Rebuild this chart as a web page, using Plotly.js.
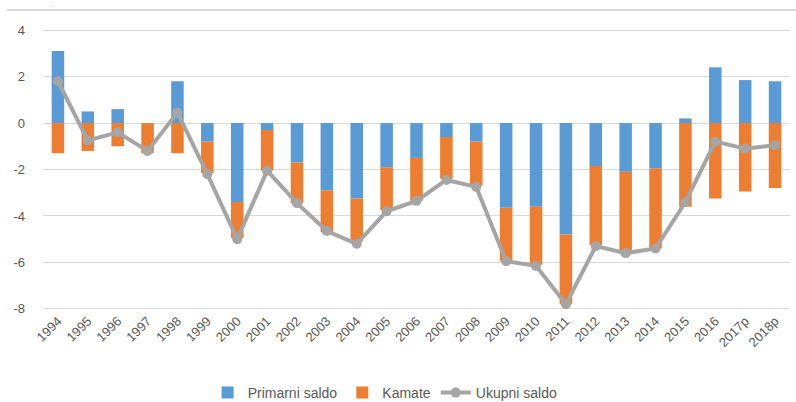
<!DOCTYPE html>
<html>
<head>
<meta charset="utf-8">
<script src="https://cdn.plot.ly/plotly-3.0.1.min.js"></script>
<style>html,body{margin:0;padding:0;background:#fff;}#chart{width:796px;height:402px;}</style>
</head>
<body>
<div id="chart"></div>
<script>
const years = ["1994","1995","1996","1997","1998","1999","2000","2001","2002","2003","2004","2005","2006","2007","2008","2009","2010","2011","2012","2013","2014","2015","2016","2017p","2018p"];
const primarniSaldo = [3.1,0.5,0.6,0.0,1.8,-0.8,-3.4,-0.3,-1.7,-2.9,-3.25,-1.9,-1.5,-0.6,-0.8,-3.65,-3.6,-4.8,-1.85,-2.1,-1.95,0.2,2.4,1.85,1.8];
const kamate = [-1.3,-1.2,-1.0,-1.3,-1.3,-1.35,-1.55,-1.75,-1.75,-1.8,-1.85,-1.85,-1.85,-1.8,-1.9,-2.3,-2.5,-3.0,-3.4,-3.45,-3.45,-3.6,-3.25,-2.95,-2.8];
const ukupniSaldo = [1.8,-0.75,-0.4,-1.2,0.45,-2.2,-5.0,-2.05,-3.45,-4.65,-5.2,-3.8,-3.35,-2.45,-2.75,-5.95,-6.15,-7.8,-5.3,-5.6,-5.4,-3.4,-0.8,-1.1,-0.95];
const yTicks = [-8,-6,-4,-2,0,2,4];

const font = "'Liberation Sans Narrow', 'Liberation Sans', Roboto, sans-serif";
const data = [
  {type:'bar', name:'Primarni saldo', x:years, y:primarniSaldo, marker:{color:'#5B9BD5'}},
  {type:'bar', name:'Kamate', x:years, y:kamate, marker:{color:'#ED7D31'}},
  {type:'scatter', mode:'lines+markers', name:'Ukupni saldo', x:years, y:ukupniSaldo,
   line:{color:'#A5A5A5', width:4}, marker:{color:'#A5A5A5', size:10}}
];
const layout = {
  width:796, height:402,
  margin:{l:43, r:6, t:29, b:92},
  barmode:'relative', bargap:0.58,
  paper_bgcolor:'#fff', plot_bgcolor:'#fff',
  font:{family:font, size:12, color:'#595959'},
  xaxis:{type:'category', range:[-0.5, years.length-0.5], tickangle:-45, showgrid:false, showline:false, ticks:'',
         tickfont:{family:font, size:13, color:'#595959'}, automargin:false},
  yaxis:{range:[-8.05,4.05], tickvals:yTicks, ticktext:yTicks.map(String), showgrid:true, gridcolor:'#D9D9D9', gridwidth:1,
         zeroline:true, zerolinecolor:'#D9D9D9', zerolinewidth:1, showline:false, ticks:'',
         tickfont:{family:font, size:13, color:'#595959'}, ticklabelstandoff:17, automargin:false},
  legend:{orientation:'h', x:0.458, xanchor:'center', yref:'container', y:(402-393)/402, yanchor:'middle',
          font:{family:font, size:14, color:'#595959'}, traceorder:'normal'},
  shapes:[{type:'line', xref:'paper', yref:'paper', x0:-0.048, x1:1.008, y0:1.0676, y1:1.0676,
           line:{color:'#D9D9D9', width:2}}],
  annotations:[{xref:'paper', yref:'paper', x:(52-43)/747, y:1+(29-0)/281, text:'.', showarrow:false,
                font:{size:6, color:'#333'}, xanchor:'center', yanchor:'top'}]
};
Plotly.newPlot('chart', data, layout, {displayModeBar:false, staticPlot:true});
</script>
</body>
</html>
